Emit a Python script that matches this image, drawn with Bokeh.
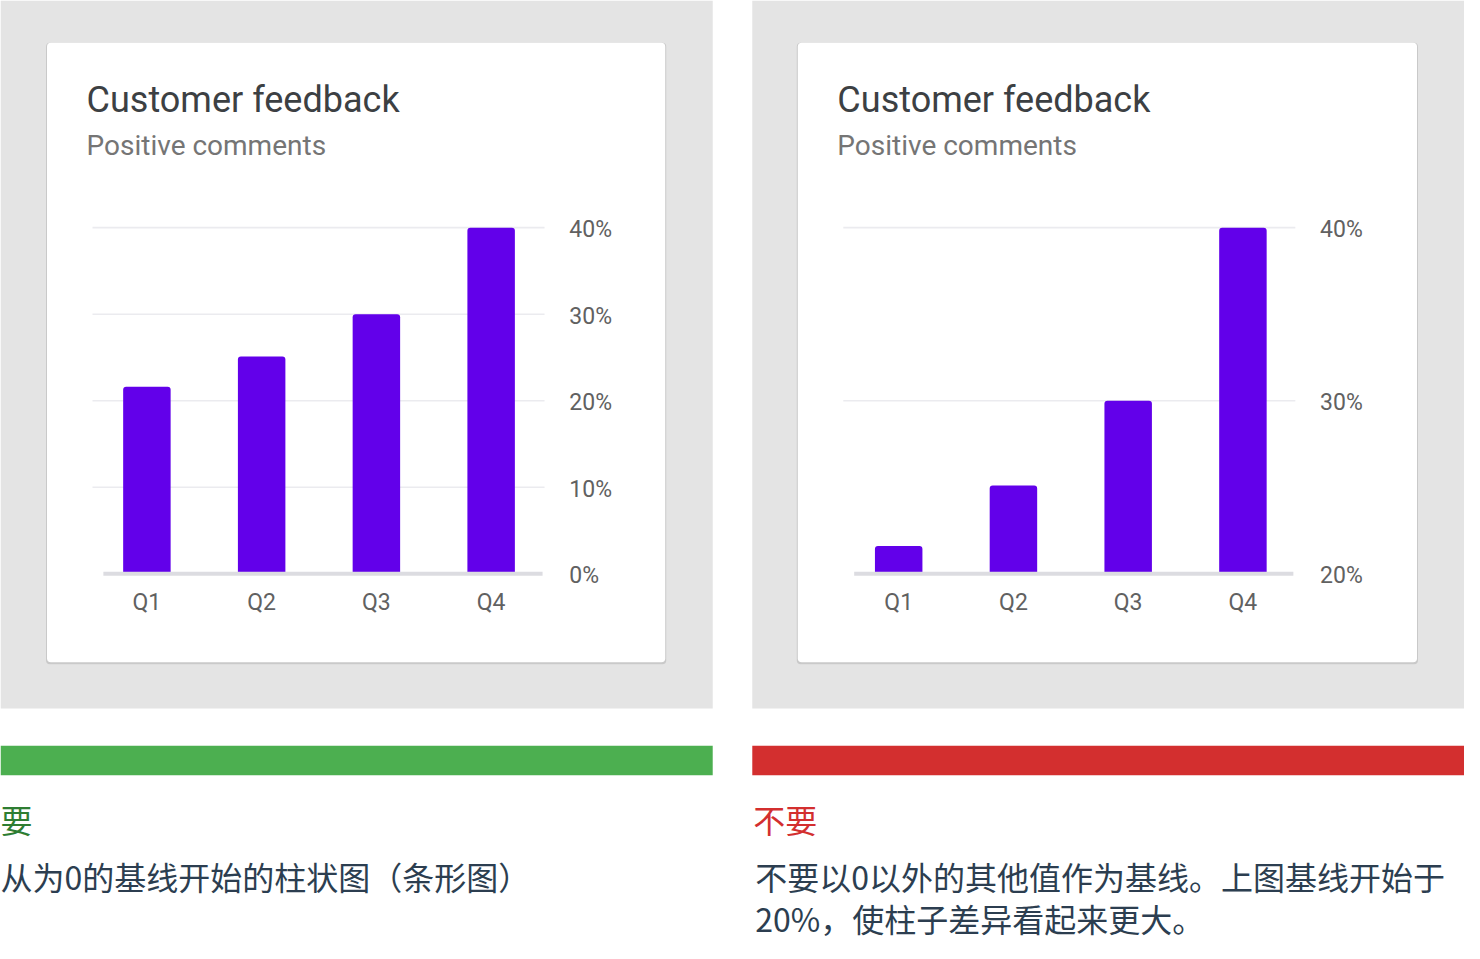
from bokeh.plotting import figure
from bokeh.models import Range1d
from bokeh.core.properties import value
from bokeh.embed import file_html
from bokeh.resources import INLINE

# ---------------- data ----------------
categories = ["Q1", "Q2", "Q3", "Q4"]
positive = [21.6, 25.1, 30.0, 40.0]          # % positive comments
left_ticks = [0, 10, 20, 30, 40]
right_ticks = [20, 30, 40]
left_baseline = 0
right_baseline = 20
title = "Customer feedback"
subtitle = "Positive comments"
do_label = "要"
do_text = "从为0的基线开始的柱状图（条形图）"
dont_label = "不要"
dont_lines = ["不要以0以外的其他值作为基线。上图基线开始于", "20%，使柱子差异看起来更大。"]

# ---------------- layout (reference pixels) ----------------
W, H = 1480, 959
p = figure(width=1464, height=943, x_range=Range1d(0, W), y_range=Range1d(H, 0),
           output_backend="svg", toolbar_location=None, min_border=0,
           x_axis_location=None, y_axis_location=None)
p.grid.visible = False
p.outline_line_color = None
p.background_fill_color = "white"
p.border_fill_color = "white"

ROBOTO = value("Roboto")
CJK = value("Noto Sans CJK SC")

# grey panels
p.quad(left=[0, 760], right=[720, 1480], top=[0, 0], bottom=[720, 720],
       fill_color="#e4e4e4", line_color=None)
# card shadows + cards
p.quad(left=[46, 805], right=[673, 1433], top=[43, 43], bottom=[675, 675],
       fill_color="#c9c9c9", line_color=None, border_radius=4)
p.quad(left=[47, 806], right=[672, 1432], top=[43, 43], bottom=[673, 673],
       fill_color="white", line_color=None, border_radius=4)

charts = [
    # name, card_left, first bar centre, step, baseline px, px per %, baseline value, ticks
    ("l", 47, 148, 116, 583, 8.8, left_baseline, left_ticks),
    ("r", 806, 908, 116, 583, 17.6, right_baseline, right_ticks),
]

for name, cl, c0, step, y0px, ppu, base, ticks in charts:
    xr, yr = name + "x", name + "y"
    p.extra_x_ranges[xr] = Range1d(-c0 / step, (W - c0) / step)
    p.extra_y_ranges[yr] = Range1d(base - (H - y0px) / ppu, base + y0px / ppu)
    idx = list(range(len(categories)))

    # titles
    p.text(x=[cl + 40], y=[101], text=[title], text_font=ROBOTO,
           text_font_size="36px", text_color="#3c4043", text_baseline="middle")
    p.text(x=[cl + 40], y=[147], text=[subtitle], text_font=ROBOTO,
           text_font_size="28px", text_color="#757575", text_baseline="middle")

    # grid lines
    gt = [t for t in ticks if t != base]
    p.segment(x0=[cl + 46] * len(gt), x1=[cl + 503] * len(gt), y0=gt, y1=gt,
              y_range_name=yr, line_color="#ebebef", line_width=1.6)

    # bars
    p.vbar(x=idx, top=positive, bottom=base, width=48 / step, fill_color="#6200ea",
           line_color=None, border_radius=(3, 3, 0, 0),
           x_range_name=xr, y_range_name=yr)

    # baseline
    p.segment(x0=[cl + 57], x1=[cl + 501], y0=[base], y1=[base], y_range_name=yr,
              line_color="#dcdce1", line_width=4)

    # right axis labels
    p.text(x=[cl + 528] * len(ticks), y=ticks, text=[f"{t}%" for t in ticks],
           y_range_name=yr, text_font=ROBOTO, text_font_size="23px",
           text_color="#616161", text_baseline="middle", text_align="left", y_offset=2)

    # category labels
    p.text(x=idx, y=[612] * len(idx), text=categories, x_range_name=xr,
           text_font=ROBOTO, text_font_size="23px", text_color="#616161",
           text_baseline="middle", text_align="center")

# colour bars
p.quad(left=[0], right=[720], top=[758], bottom=[788], fill_color="#4caf50", line_color=None)
p.quad(left=[760], right=[1480], top=[758], bottom=[788], fill_color="#d32f2f", line_color=None)

# texts
p.text(x=[0], y=[832], text=[do_label], text_font=CJK, text_font_size="32px",
       text_color="#2e7d32", text_baseline="middle")
p.text(x=[0], y=[890], text=[do_text], text_font=CJK, text_font_size="32px",
       text_color="#2c3e50", text_baseline="middle")
p.text(x=[761], y=[832], text=[dont_label], text_font=CJK, text_font_size="32px",
       text_color="#d32f2f", text_baseline="middle")
p.text(x=[763, 763], y=[890, 933], text=dont_lines, text_font=CJK, text_font_size="32px",
       text_color="#2c3e50", text_baseline="middle")

open("out.html", "w").write(file_html(p, INLINE))
